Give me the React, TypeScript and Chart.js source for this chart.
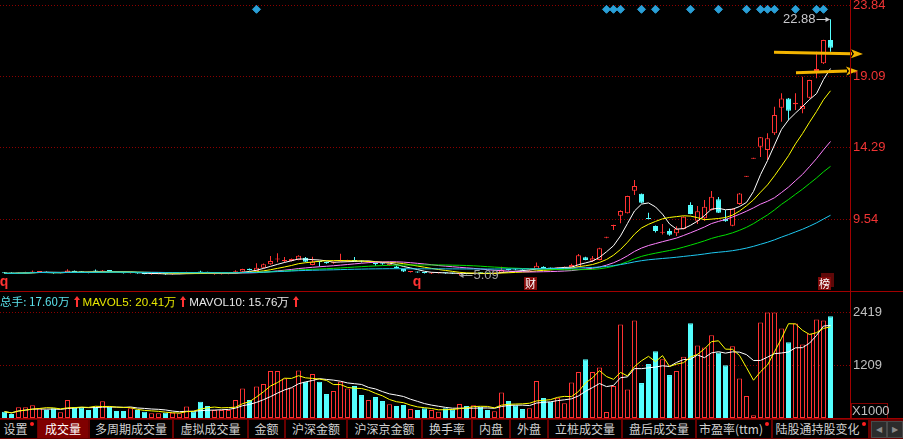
import React, { useEffect, useRef } from 'react';
import { Chart, registerables } from 'chart.js';

Chart.register(...registerables);

// ---------------- data ----------------
const opens = [
  5.97, 5.95, 5.90, 5.93, 5.97, 6.00, 6.02, 5.96, 5.91, 5.95,
  6.08, 6.02, 5.99, 6.10, 6.04, 6.10, 6.05, 5.99, 5.91, 5.94,
  5.90, 5.84, 5.86, 5.89, 5.84, 5.86, 5.88, 5.97, 6.02, 5.98,
  5.84, 5.85, 5.87, 5.90, 6.02, 6.22, 6.07, 6.29, 6.51, 6.83,
  6.74, 6.73, 6.80, 6.95, 6.47, 6.70, 6.66, 6.58, 6.70, 6.72,
  6.78, 6.74, 6.66, 6.60, 6.55, 6.46, 6.36, 6.20, 6.00, 6.02,
  5.97, 5.90, 5.92, 5.94, 5.92, 5.84, 5.90, 5.87, 5.94, 5.92,
  5.89, 5.94, 6.18, 6.22, 6.16, 6.10, 6.20, 6.35, 6.26, 6.24,
  6.28, 6.33, 6.35, 6.98, 6.75, 6.80, 8.28, 9.08, 9.76, 9.92,
  11.43, 11.23, 9.59, 9.07, 8.62, 8.74, 8.58, 8.87, 10.47, 9.43,
  9.59, 10.14, 10.86, 9.54, 9.09, 10.54, 12.36, 13.57, 14.37, 14.15,
  15.27, 16.98, 17.60, 17.20, 16.87, 17.65, 19.43, 19.94, 21.50,
];
const highs = [
  6.00, 5.98, 5.98, 6.02, 6.10, 6.06, 6.04, 5.98, 5.96, 6.18,
  6.10, 6.06, 6.01, 6.16, 6.14, 6.12, 6.07, 6.00, 5.97, 5.96,
  5.92, 5.90, 5.92, 5.90, 5.88, 5.90, 6.02, 5.99, 6.08, 6.02,
  5.88, 5.89, 5.93, 6.12, 6.22, 6.24, 6.58, 6.56, 7.07, 7.25,
  7.00, 6.90, 7.12, 7.00, 7.02, 6.72, 6.70, 6.70, 7.22, 6.82,
  7.00, 6.77, 6.75, 6.62, 6.60, 6.54, 6.44, 6.22, 6.06, 6.04,
  5.99, 5.96, 5.98, 5.96, 5.94, 5.90, 5.93, 5.95, 5.96, 5.94,
  5.95, 6.35, 6.22, 6.24, 6.18, 6.18, 6.64, 6.38, 6.30, 6.32,
  6.36, 6.55, 7.20, 7.02, 7.07, 7.62, 8.36, 9.15, 10.12, 11.10,
  12.15, 11.25, 9.96, 9.10, 9.20, 8.90, 9.05, 9.72, 10.66, 10.41,
  10.81, 11.41, 11.01, 10.14, 10.25, 11.28, 12.42, 13.63, 15.02, 15.27,
  17.04, 17.94, 17.62, 17.94, 19.05, 18.85, 20.72, 21.52, 22.88,
];
const lows = [
  5.88, 5.88, 5.88, 5.90, 5.95, 5.96, 5.93, 5.88, 5.89, 5.93,
  5.98, 5.96, 5.92, 6.00, 6.02, 6.03, 5.98, 5.90, 5.89, 5.88,
  5.84, 5.82, 5.84, 5.82, 5.82, 5.84, 5.86, 5.90, 5.94, 5.92,
  5.82, 5.83, 5.85, 5.88, 6.00, 6.10, 6.05, 6.25, 6.48, 6.65,
  6.62, 6.70, 6.78, 6.66, 6.45, 6.37, 6.55, 6.55, 6.68, 6.66,
  6.70, 6.64, 6.62, 6.42, 6.48, 6.42, 6.24, 6.00, 5.97, 5.94,
  5.90, 5.86, 5.90, 5.88, 5.86, 5.78, 5.85, 5.86, 5.88, 5.87,
  5.88, 5.92, 6.10, 6.12, 6.08, 6.08, 6.18, 6.22, 6.20, 6.22,
  6.26, 6.30, 6.33, 6.78, 6.67, 6.78, 8.26, 8.80, 9.25, 9.90,
  11.14, 10.60, 9.52, 8.63, 8.50, 8.42, 8.40, 8.85, 9.85, 9.20,
  9.43, 10.10, 9.94, 9.36, 9.05, 10.50, 12.35, 13.56, 13.68, 13.48,
  15.15, 16.04, 16.16, 16.82, 16.60, 17.60, 18.94, 19.90, 20.72,
];
const closes = [
  5.91, 5.90, 5.94, 5.97, 6.04, 6.03, 5.95, 5.91, 5.94, 6.10,
  6.00, 5.98, 5.95, 6.04, 6.10, 6.06, 6.00, 5.92, 5.94, 5.90,
  5.86, 5.87, 5.89, 5.84, 5.86, 5.88, 5.97, 5.93, 5.97, 5.95,
  5.86, 5.87, 5.90, 6.05, 6.20, 6.14, 6.29, 6.51, 6.73, 6.87,
  6.78, 6.87, 7.09, 6.69, 6.69, 6.66, 6.58, 6.63, 6.78, 6.78,
  6.74, 6.70, 6.70, 6.52, 6.52, 6.50, 6.26, 6.04, 6.03, 5.97,
  5.93, 5.92, 5.95, 5.91, 5.89, 5.88, 5.87, 5.93, 5.91, 5.89,
  5.93, 6.14, 6.13, 6.16, 6.10, 6.15, 6.42, 6.24, 6.23, 6.30,
  6.33, 6.47, 7.12, 6.80, 6.91, 7.58, 8.34, 9.13, 10.08, 11.08,
  11.75, 10.63, 9.54, 8.74, 8.66, 8.49, 8.89, 9.69, 9.87, 10.05,
  10.36, 11.03, 9.96, 9.39, 10.23, 11.25, 12.41, 13.62, 15.00, 14.93,
  16.49, 17.60, 16.78, 17.31, 17.09, 18.83, 19.56, 21.50, 20.99,
];
// volume, x1000
const volumes = [
  145, 91, 244, 244, 289, 221, 183, 221, 129, 411,
  244, 244, 183, 259, 381, 259, 160, 160, 221, 183,
  145, 107, 107, 122, 122, 107, 266, 152, 373, 274,
  183, 183, 183, 411, 677, 411, 723, 776, 1073, 1073,
  906, 700, 1088, 829, 1005, 829, 548, 616, 829, 677,
  731, 525, 411, 479, 388, 312, 274, 297, 205, 183,
  221, 183, 145, 221, 200, 320, 274, 289, 259, 183,
  152, 586, 388, 289, 205, 221, 845, 457, 373, 464,
  335, 814, 1050, 1347, 1050, 1157, 137, 731, 2138, 654,
  2230, 799, 1233, 1530, 1347, 982, 1073, 1400, 2169, 1659,
  1613, 1895, 1499, 1210, 1644, 906, 502, 61, 2184, 2412,
  2412, 2047, 1735, 2161, 1682, 1933, 2253, 2230, 2329,
];

const priceTicks = [23.84, 19.09, 14.29, 9.54];
const volumeTicks = [2419, 1209];
const maPeriods = [5, 10, 20, 30, 60];
const volumeMaPeriods = [5, 10];
const signalDays = [36, 86, 87, 88, 91, 93, 98, 102, 106, 108, 109, 110, 113, 116, 117];
const signalPrice = 23.55;
const eventDays = [0, 59, 75, 117];
const eventTexts = ['q', 'q', '财', '榜'];
const lowLabelText = '5.09';
// user-drawn arrows (day index / price)
const arrowFromDay = [109.93, 113.07];
const arrowFromPrice = [20.68, 19.32];
const arrowToDay = [122.64, 121.93];
const arrowToPrice = [20.57, 19.45];
const legendNames = ['总手', 'MAVOL5', 'MAVOL10'];
const legendValues = ['17.60万', '20.41万', '15.76万'];
const tabNames = ['设置', '成交量', '多周期成交量', '虚拟成交量', '金额', '沪深金额', '沪深京金额', '换手率', '内盘', '外盘', '立桩成交量', '盘后成交量', '市盈率(ttm)', '陆股通持股变化'];
const activeTab = 1;
const dottedTabs = [0, 12, 13];

// ---------------- styles / geometry ----------------
const RED = '#ff3232';
const CYAN = '#54ffff';
const GRID = '#8b0000';
const LINE_RED = '#a00000';
const ORANGE = '#f3b400';
const MA_COLORS = ['#ffffff', '#ffff00', '#ff80ff', '#00e000', '#1ec8f0'];
const VMA_COLORS = ['#ffff00', '#ffffff'];
const FONT = "'Liberation Sans', Arial, sans-serif";
const CJK = "'Noto Sans CJK SC', 'Liberation Sans', sans-serif";

const SLOT = 7;
const FIRST = 4.5;
const PLOT_R = 850;
const AXIS_W = 903 - PLOT_R;
const X_MIN = -FIRST / SLOT;
const X_MAX = (PLOT_R - FIRST) / SLOT;

const P_PX = (219 - 5) / (23.84 - 9.54);
const P_MAX = 23.84 + 5 / P_PX;
const P_MIN = P_MAX - 290 / P_PX;
const V_PX = (418 - 312.3) / 2419;
const V_MAX = 112 / V_PX;

const TAB_POS = [
  [0, 37], [38, 50], [90, 82], [174, 73], [249, 35], [286, 60], [348, 73],
  [423, 48], [473, 36], [511, 36], [549, 72], [623, 72], [697, 74], [773, 95],
];

function movingAverage(src: number[], n: number): number[] {
  return src.map((_, i) => {
    const s = Math.max(0, i - n + 1);
    let sum = 0;
    for (let k = s; k <= i; k++) sum += src[k];
    return sum / (i - s + 1);
  });
}

function makeX(): any {
  return { type: 'linear', min: X_MIN, max: X_MAX, display: false, offset: false };
}

const priceDecor = {
  id: 'priceDecor',
  afterDraw(chart: any) {
    const { ctx, chartArea } = chart;
    const xs = chart.scales.x;
    const ys = chart.scales.y;
    const px = (d: number) => xs.getPixelForValue(d);
    const py = (p: number) => ys.getPixelForValue(p);
    ctx.save();

    // event marks at the bottom of the price panel
    eventDays.forEach((d, k) => {
      const t = eventTexts[k];
      const cx = Math.round(px(d));
      const b = chartArea.bottom;
      if (t === 'q') {
        ctx.fillStyle = RED;
        ctx.font = `bold 14px ${FONT}`;
        ctx.textAlign = 'center';
        ctx.textBaseline = 'alphabetic';
        ctx.fillText(t, cx - 1, b - 4);
      } else {
        if (t === '榜') {
          ctx.fillStyle = '#5e0808';
          ctx.fillRect(cx - 3, b - 17, 13, 14);
        }
        ctx.fillStyle = '#820a0a';
        ctx.fillRect(cx - 6, b - 13, 13, 13);
        ctx.fillStyle = '#ffffff';
        ctx.font = `11px ${CJK}`;
        ctx.textAlign = 'center';
        ctx.textBaseline = 'middle';
        ctx.fillText(t, cx + 0.5, b - 6.5);
      }
    });

    // highest price label
    let hi = 0;
    highs.forEach((h, i) => { if (h > highs[hi]) hi = i; });
    let lo = 0;
    lows.forEach((l, i) => { if (l < lows[lo]) lo = i; });
    const hx = px(hi);
    const hy = Math.round(py(highs[hi])) + 0.5;
    ctx.strokeStyle = '#c8c8cc';
    ctx.fillStyle = '#c8c8cc';
    ctx.lineWidth = 1;
    ctx.beginPath();
    ctx.moveTo(hx - 14, hy);
    ctx.lineTo(hx - 1, hy);
    ctx.stroke();
    ctx.beginPath();
    ctx.moveTo(hx - 0.5, hy);
    ctx.lineTo(hx - 5, hy - 2.5);
    ctx.lineTo(hx - 5, hy + 2.5);
    ctx.closePath();
    ctx.fill();
    ctx.font = `13px ${FONT}`;
    ctx.textAlign = 'right';
    ctx.textBaseline = 'middle';
    ctx.fillText(highs[hi].toFixed(2), hx - 15, hy);

    // lowest price label
    const lx = px(lo);
    const ly = Math.round(py(lows[lo])) + 0.5;
    ctx.strokeStyle = '#a0a0a0';
    ctx.fillStyle = '#a0a0a0';
    ctx.beginPath();
    ctx.moveTo(lx + 1, ly);
    ctx.lineTo(lx + 13, ly);
    ctx.stroke();
    ctx.beginPath();
    ctx.moveTo(lx - 0.5, ly);
    ctx.lineTo(lx + 4, ly - 2.5);
    ctx.lineTo(lx + 4, ly + 2.5);
    ctx.closePath();
    ctx.fill();
    ctx.textAlign = 'left';
    ctx.fillText(lowLabelText, lx + 14, ly);

    // orange user arrows
    arrowFromDay.forEach((_, k) => {
      const x0 = px(arrowFromDay[k]);
      const y0 = py(arrowFromPrice[k]);
      const x1 = px(arrowToDay[k]);
      const y1 = py(arrowToPrice[k]);
      const a = Math.atan2(y1 - y0, x1 - x0);
      const head = 12;
      const hw = 4.5;
      const bx = x1 - head * Math.cos(a);
      const by = y1 - head * Math.sin(a);
      ctx.strokeStyle = ORANGE;
      ctx.lineWidth = 3;
      ctx.beginPath();
      ctx.moveTo(x0, y0);
      ctx.lineTo(bx + 1, by);
      ctx.stroke();
      ctx.fillStyle = ORANGE;
      ctx.beginPath();
      ctx.moveTo(x1, y1);
      ctx.lineTo(bx + hw * Math.sin(a), by - hw * Math.cos(a));
      ctx.lineTo(bx + 3, by);
      ctx.lineTo(bx - hw * Math.sin(a), by + hw * Math.cos(a));
      ctx.closePath();
      ctx.fill();
    });
    ctx.restore();
  },
};

function UpArrow() {
  return (
    <svg width={6} height={11} viewBox="0 0 6 11" style={{ display: 'inline-block', verticalAlign: '-1px', margin: '0 3px 0 4px' }}>
      <polygon points="3,0 6,4 4,4 4,11 2,11 2,4 0,4" fill={RED} />
    </svg>
  );
}

export default function App() {
  const priceRef = useRef<HTMLCanvasElement>(null);
  const volRef = useRef<HTMLCanvasElement>(null);

  useEffect(() => {
    const days = closes.map((_, i) => i);
    const up = days.map((i) => closes[i] >= opens[i]);

    const priceChart = new Chart(priceRef.current as HTMLCanvasElement, {
      type: 'bar',
      data: {
        datasets: [
          {
            type: 'line',
            data: signalDays.map((d) => ({ x: d, y: signalPrice })),
            showLine: false,
            pointStyle: 'rectRot',
            pointRadius: 4,
            pointBorderWidth: 1,
            pointBackgroundColor: '#2aa0d8',
            pointBorderColor: '#2aa0d8',
            order: 0,
          } as any,
          ...maPeriods.map((n, k) => ({
            type: 'line',
            data: movingAverage(closes, n).map((v, i) => ({ x: i, y: v })),
            borderColor: MA_COLORS[k],
            borderWidth: 1,
            pointRadius: 0,
            tension: 0,
            order: 1 + (maPeriods.length - k) * 0.01,
          } as any)),
          {
            type: 'bar',
            data: days.map((i) => ({ x: i, y: [opens[i], closes[i]] })),
            barThickness: 5,
            grouped: false,
            borderSkipped: false,
            inflateAmount: 0,
            minBarLength: 1,
            borderWidth: 1,
            borderColor: days.map((i) => (up[i] ? RED : CYAN)),
            backgroundColor: days.map((i) => (up[i] ? '#000000' : CYAN)),
            order: 2,
          } as any,
          {
            type: 'bar',
            data: days.map((i) => ({ x: i, y: [lows[i], highs[i]] })),
            barThickness: 1,
            grouped: false,
            borderSkipped: false,
            inflateAmount: 0,
            borderWidth: 0,
            backgroundColor: days.map((i) => (up[i] ? RED : CYAN)),
            order: 3,
          } as any,
        ],
      },
      options: {
        animation: false,
        responsive: false,
        maintainAspectRatio: false,
        devicePixelRatio: 1,
        events: [],
        layout: { autoPadding: false, padding: { top: 0, bottom: 1, left: 0, right: 0 } },
        plugins: { legend: { display: false }, tooltip: { enabled: false } },
        scales: {
          x: makeX(),
          y: {
            type: 'linear',
            position: 'right',
            min: P_MIN,
            max: P_MAX,
            bounds: 'data',
            afterBuildTicks: (s: any) => { s.ticks = priceTicks.map((v) => ({ value: v })); },
            afterFit: (s: any) => { s.width = AXIS_W; s.paddingTop = 0; s.paddingBottom = 0; },
            grid: { color: GRID, lineWidth: 1, drawTicks: false },
            border: { display: false, dash: [1, 2] },
            ticks: {
              color: '#f03434',
              font: { family: FONT, size: 13 },
              padding: 3,
              autoSkip: false,
              callback: (v: any) => Number(v).toFixed(2),
            },
          },
        },
      } as any,
      plugins: [priceDecor],
    });

    const volChart = new Chart(volRef.current as HTMLCanvasElement, {
      type: 'bar',
      data: {
        datasets: [
          ...volumeMaPeriods.map((n, k) => ({
            type: 'line',
            data: movingAverage(volumes, n).map((v, i) => ({ x: i, y: v })),
            borderColor: VMA_COLORS[k],
            borderWidth: 1,
            pointRadius: 0,
            tension: 0,
            order: 0,
          } as any)),
          {
            type: 'bar',
            data: days.map((i) => ({ x: i, y: volumes[i] })),
            barThickness: 5,
            grouped: false,
            borderSkipped: false,
            inflateAmount: 0,
            borderWidth: 1,
            borderColor: days.map((i) => (up[i] ? RED : CYAN)),
            backgroundColor: days.map((i) => (up[i] ? '#000000' : CYAN)),
            order: 1,
          } as any,
        ],
      },
      options: {
        animation: false,
        responsive: false,
        maintainAspectRatio: false,
        devicePixelRatio: 1,
        events: [],
        layout: { autoPadding: false, padding: { top: 14, bottom: 1, left: 0, right: 0 } },
        plugins: { legend: { display: false }, tooltip: { enabled: false } },
        scales: {
          x: makeX(),
          y: {
            type: 'linear',
            position: 'right',
            min: 0,
            max: V_MAX,
            bounds: 'data',
            afterBuildTicks: (s: any) => { s.ticks = volumeTicks.map((v) => ({ value: v })); },
            afterFit: (s: any) => { s.width = AXIS_W; s.paddingTop = 0; s.paddingBottom = 0; },
            grid: { color: GRID, lineWidth: 1, drawTicks: false },
            border: { display: false, dash: [1, 2] },
            ticks: {
              color: '#c0c0c0',
              font: { family: FONT, size: 13 },
              padding: 3,
              autoSkip: false,
              callback: (v: any) => String(Math.round(Number(v))),
            },
          },
        },
      } as any,
    });

    return () => {
      priceChart.destroy();
      volChart.destroy();
    };
  }, []);

  const legendColors = ['#5ce4ee', '#e8e800', '#e8e8e8'];

  return (
    <div style={{ position: 'fixed', left: 0, top: 0, width: 903, height: 439, background: '#000', overflow: 'hidden' }}>
      <canvas ref={priceRef} width={903} height={291} style={{ position: 'absolute', left: 0, top: 0, width: 903, height: 291, display: 'block' }} />
      <canvas ref={volRef} width={903} height={127} style={{ position: 'absolute', left: 0, top: 292, width: 903, height: 127, display: 'block' }} />
      {/* frame lines */}
      <div style={{ position: 'absolute', left: 0, top: 291, width: 903, height: 1, background: LINE_RED }} />
      <div style={{ position: 'absolute', left: PLOT_R, top: 0, width: 1, height: 419, background: LINE_RED }} />
      {/* legend */}
      <div style={{ position: 'absolute', left: 0, top: 294, height: 14, lineHeight: '14px', fontSize: 11.6, fontFamily: FONT, whiteSpace: 'nowrap' }}>
        {legendNames.map((n, k) => (
          <span key={n}>
            <span style={{ color: legendColors[k], fontFamily: k === 0 ? CJK : FONT }}>{n}: {legendValues[k]}</span>
            <UpArrow />
          </span>
        ))}
      </div>
      {/* unit box */}
      <div style={{ position: 'absolute', left: 851, top: 403, width: 35, height: 14, border: '1px solid #800000', color: '#c0c0c0', fontFamily: FONT, fontSize: 13, lineHeight: '14px', textAlign: 'center' }}>X1000</div>
      {/* tab bar */}
      <div style={{ position: 'absolute', left: 0, top: 418, width: 903, height: 1, background: LINE_RED }} />
      <div style={{ position: 'absolute', left: 0, top: 419, width: 903, height: 20, background: '#6a0000' }}>
        {tabNames.map((t, k) => (
          <div key={t} style={{
            position: 'absolute', left: TAB_POS[k][0], top: 1, width: TAB_POS[k][1], height: 18,
            background: k === activeTab ? '#800000' : '#000', color: k === activeTab ? '#ffffff' : '#d0d0d0',
            fontFamily: CJK, fontSize: 12, lineHeight: '18px', textAlign: 'center', whiteSpace: 'nowrap',
          }}>
            {t}
            {dottedTabs.includes(k) ? (
              <span style={{ display: 'inline-block', width: 4, height: 4, borderRadius: 2, background: '#ff2020', marginLeft: 2, verticalAlign: 'top', marginTop: 2 }} />
            ) : null}
          </div>
        ))}
        <div style={{ position: 'absolute', left: 871, top: 2, width: 14, height: 15, background: '#2c2c2c', border: '1px solid #4a4a4a', color: '#8a8a8a', fontSize: 8, lineHeight: '15px', textAlign: 'center' }}>◀</div>
        <div style={{ position: 'absolute', left: 887, top: 2, width: 14, height: 15, background: '#2c2c2c', border: '1px solid #4a4a4a', color: '#8a8a8a', fontSize: 8, lineHeight: '15px', textAlign: 'center' }}>▶</div>
      </div>
    </div>
  );
}
